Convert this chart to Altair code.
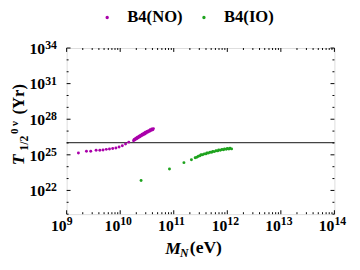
import altair as alt
import pandas as pd

# ---------------- data (log10 values) ----------------
series_names = ["B4(NO)", "B4(IO)"]
series_colors = ["#aa00aa", "#1ea31e"]

log10_M_NO = [9.22, 9.37, 9.45, 9.55, 9.62, 9.68, 9.74, 9.80, 9.86, 9.92, 9.98, 10.04, 10.10, 10.16,
              10.25, 10.26, 10.28, 10.29, 10.31, 10.32, 10.34, 10.35, 10.37, 10.38, 10.40, 10.41, 10.43,
              10.44, 10.46, 10.47, 10.49, 10.50, 10.52, 10.53, 10.55, 10.56, 10.58, 10.59, 10.61, 10.62]
log10_T_NO = [25.16, 25.30, 25.30, 25.38, 25.38, 25.41, 25.46, 25.49, 25.54, 25.58, 25.66, 25.77, 25.91, 26.07,
              26.18, 26.30, 26.27, 26.40, 26.36, 26.49, 26.44, 26.57, 26.52, 26.66, 26.60, 26.73, 26.68,
              26.82, 26.76, 26.90, 26.84, 26.97, 26.92, 27.04, 26.99, 27.11, 27.06, 27.17, 27.12, 27.21]

log10_M_IO = [10.39, 10.92, 11.19, 11.33, 11.40,
              11.43, 11.46, 11.49, 11.51, 11.54, 11.57, 11.60, 11.62, 11.65, 11.68, 11.71, 11.73, 11.76,
              11.79, 11.82, 11.84, 11.87, 11.90, 11.93, 11.95, 11.98, 12.00, 12.03, 12.05, 12.08]
log10_T_IO = [22.83, 23.81, 24.34, 24.59, 24.75,
              24.80, 24.88, 24.92, 25.00, 25.00, 25.08, 25.08, 25.15, 25.15, 25.22, 25.22, 25.29, 25.27,
              25.35, 25.33, 25.41, 25.38, 25.45, 25.43, 25.50, 25.46, 25.53, 25.49, 25.55, 25.50]

bound_T = [1.07e26]                      # horizontal experimental bound
x_decades = [9, 10, 11, 12, 13, 14]       # labelled x ticks (powers of ten)
y_decades = [20, 21, 22, 23, 24, 25, 26, 27, 28, 29, 30, 31, 32, 33, 34]
y_labelled = [22, 25, 28, 31, 34]

# ---------------- tables ----------------
df = pd.concat([
    pd.DataFrame({"M": [10 ** v for v in log10_M_NO], "T": [10 ** v for v in log10_T_NO], "series": series_names[0]}),
    pd.DataFrame({"M": [10 ** v for v in log10_M_IO], "T": [10 ** v for v in log10_T_IO], "series": series_names[1]}),
])
bound_df = pd.DataFrame({"T": bound_T})
xmaj = pd.DataFrame({"M": [10.0 ** e for e in x_decades], "e": [str(e) for e in x_decades]})
xmin = pd.DataFrame({"M": [d * 10.0 ** e for e in x_decades[:-1] for d in range(2, 10)]})
ymaj = pd.DataFrame({"T": [10.0 ** e for e in y_labelled], "e": [str(e) for e in y_labelled]})
ymin = pd.DataFrame({"T": [10.0 ** e for e in y_decades if e not in y_labelled]})

W, H = 274, 170
FONT = "Liberation Serif"
xs = alt.Scale(type="log", domain=[1e9, 1e14])
ys = alt.Scale(type="log", domain=[1e20, 1e34])
X = lambda: alt.X("M:Q", scale=xs, axis=None)
Y = lambda: alt.Y("T:Q", scale=ys, axis=None)

points = alt.Chart(df).mark_circle(size=9, opacity=1).encode(
    x=X(), y=Y(),
    color=alt.Color("series:N",
                    scale=alt.Scale(domain=series_names, range=series_colors),
                    legend=alt.Legend(orient="none", legendX=33, legendY=-40, direction="horizontal",
                                      title=None, symbolType="circle", symbolSize=12, padding=0,
                                      labelFont=FONT, labelFontSize=17, labelFontWeight="bold",
                                      labelColor="black", labelOffset=12, columnPadding=13)),
)

bound = alt.Chart(bound_df).mark_rule(color="#444444", strokeWidth=1.5).encode(y=Y())

def xtick(data, y0, y1):
    return alt.Chart(data).mark_rule(color="black", strokeWidth=1).encode(
        x=X(), y=alt.value(y0), y2=alt.value(y1))

def ytick(data, x0, x1):
    return alt.Chart(data).mark_rule(color="black", strokeWidth=1).encode(
        y=Y(), x=alt.value(x0), x2=alt.value(x1))

ticks = [xtick(xmaj, H, H - 4), xtick(xmaj, 0, 4), xtick(xmin, H, H - 2), xtick(xmin, 0, 2),
         ytick(ymaj, 0, 4), ytick(ymaj, W, W - 4), ytick(ymin, 0, 2), ytick(ymin, W, W - 2)]

xlab_base = alt.Chart(xmaj).mark_text(font=FONT, fontWeight="bold", fontSize=16, align="right",
                                       baseline="alphabetic", color="black").encode(
    x=X(), y=alt.value(187), text=alt.value("10"))
xlab_exp = alt.Chart(xmaj).mark_text(font=FONT, fontWeight="bold", fontSize=12, align="left",
                                      baseline="alphabetic", color="black").encode(
    x=X(), y=alt.value(181), text="e:N")
ylab_base = alt.Chart(ymaj).mark_text(font=FONT, fontWeight="bold", fontSize=16, align="right",
                                       baseline="alphabetic", dy=6, color="black").encode(
    y=Y(), x=alt.value(-22), text=alt.value("10"))
ylab_exp = alt.Chart(ymaj).mark_text(font=FONT, fontWeight="bold", fontSize=12, align="left",
                                      baseline="alphabetic", dy=1, color="black").encode(
    y=Y(), x=alt.value(-22), text="e:N")

def label(txt, x, y, size, style="normal", angle=0):
    return alt.Chart(pd.DataFrame({"t": [txt]})).mark_text(
        font=FONT, fontWeight="bold", fontStyle=style, fontSize=size, align="left",
        baseline="alphabetic", angle=angle, color="black").encode(
        x=alt.value(x), y=alt.value(y), text="t:N")

titles = [
    label("M", 101, 211, 18, "italic"),
    label("N", 116, 214, 12, "italic"),
    label("(eV)", 126, 210, 18),
    label("T", -44, 120, 18, "italic", 270),
    label("1/2", -40, 105, 12, "normal", 270),
    label("0 ν", -50, 88, 11, "normal", 270),
    label("(Yr)", -44, 68, 17, "normal", 270),
]

chart = alt.layer(bound, points, *ticks, xlab_base, xlab_exp, ylab_base, ylab_exp, *titles).properties(
    width=W, height=H,
    autosize=alt.AutoSizeParams(type="none"),
    padding={"left": 60, "top": 38, "right": 18, "bottom": 46},
).configure_view(stroke="black", strokeWidth=1).configure(background="white")

chart.save("out.html", embed_options={"renderer": "svg", "actions": False})
